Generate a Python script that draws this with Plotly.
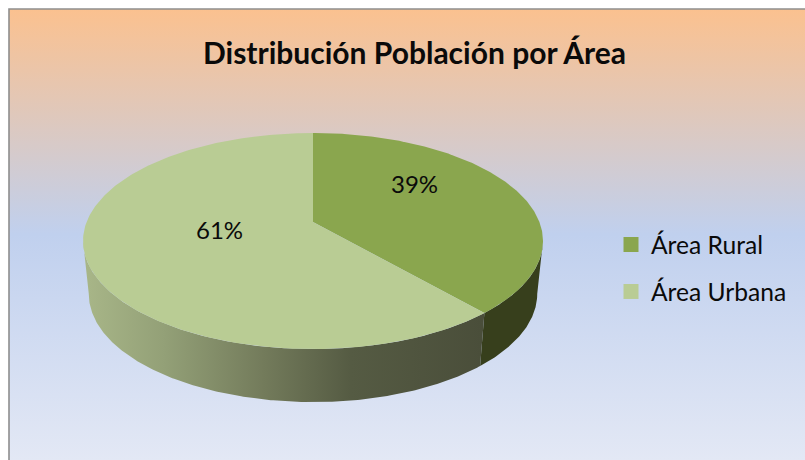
import numpy as np
import plotly.graph_objects as go

# Data
categories = ["Área Rural", "Área Urbana"]
values = [38.6, 61.4]
slice_colors = ["#8AA64E", "#B9CC94"]
title_text = "Distribución Población por Área"

# Drawing frame (pixel-like axes) and projection of the tilted disc
W, H = 805, 460
CX, APEX_Y, RX, RY, G = 313, 222, 226.4, 104.7, 0.176
DEPTH, SHRINK = 53, 0.975
FRAME_X, FRAME_Y = 9, 9


def rim(t0, t1, n=240):
    t = np.radians(np.linspace(t0, t1, n))
    u, v = np.sin(t), np.cos(t)
    w = 1 + G * v
    return CX + RX * u / w, APEX_Y - RY * v / w


def wall(t0, t1):
    x, y = rim(t0, t1)
    bx = CX + (x - CX) * SHRINK
    by = y + DEPTH
    return np.r_[x, bx[::-1], x[0]], np.r_[y, by[::-1], y[0]]


def sector(t0, t1):
    x, y = rim(t0, t1)
    return np.r_[CX, x, CX], np.r_[APEX_Y, y, APEX_Y]


split = 360 * values[0] / sum(values)
pct = [f"{round(100 * v / sum(values))}%" for v in values]

fig = go.Figure()

# Chart background
fig.add_trace(go.Scatter(
    x=[FRAME_X, W, W, FRAME_X, FRAME_X], y=[FRAME_Y, FRAME_Y, H, H, FRAME_Y],
    mode="lines", line=dict(width=0), fill="toself",
    fillgradient=dict(
        type="vertical", start=FRAME_Y, stop=H,
        colorscale=[[0, "#FBC18F"], [0.5, "#C0D0EE"], [1, "#E3E8F5"]],
    ),
    showlegend=False, hoverinfo="skip",
))
fig.add_trace(go.Scatter(
    x=[FRAME_X, FRAME_X, W], y=[H, FRAME_Y, FRAME_Y], mode="lines",
    line=dict(color="#8E8E8E", width=1.6), showlegend=False, hoverinfo="skip",
))

# Side walls
x, y = wall(100, split)
fig.add_trace(go.Scatter(
    x=x, y=y, mode="lines", line=dict(width=0), fill="toself",
    fillcolor="#373F1C", showlegend=False, hoverinfo="skip",
))
x, y = wall(split, 260)
fig.add_trace(go.Scatter(
    x=x, y=y, mode="lines", line=dict(width=0), fill="toself",
    fillgradient=dict(
        type="horizontal", start=85, stop=482,
        colorscale=[[0, "#A8B688"], [0.2, "#93A077"], [0.45, "#737B5B"],
                    [0.67, "#555B43"], [1, "#4A4E3A"]],
    ),
    showlegend=False, hoverinfo="skip",
))

# Top slices
x, y = sector(0, split)
fig.add_trace(go.Scatter(
    x=x, y=y, mode="lines", line=dict(width=0), fill="toself",
    fillcolor=slice_colors[0], showlegend=False, hoverinfo="skip",
))
x, y = sector(split, 360)
fig.add_trace(go.Scatter(
    x=x, y=y, mode="lines", line=dict(width=0), fill="toself",
    fillcolor=slice_colors[1], showlegend=False, hoverinfo="skip",
))

# Legend entries
for name, color in zip(categories, slice_colors):
    fig.add_trace(go.Scatter(
        x=[None], y=[None], mode="markers", name=name, legendgroup=name,
        marker=dict(symbol="square", size=15, color=color),
    ))

label_pos = [(414, 183.5), (219, 229.5)]
annotations = [
    dict(x=px, y=py, text=t, showarrow=False, xref="x", yref="y",
         font=dict(family="Lato", size=24, color="#0A0A0A"))
    for (px, py), t in zip(label_pos, pct)
]
annotations.append(dict(
    x=414, y=52, text=f"<b>{title_text}</b>", showarrow=False, xref="x", yref="y",
    font=dict(family="Lato", size=30, color="#0A0A0A"),
))

fig.update_layout(
    width=W, height=H, margin=dict(l=0, r=0, t=0, b=0),
    paper_bgcolor="white", plot_bgcolor="rgba(0,0,0,0)",
    xaxis=dict(range=[0, W], visible=False, fixedrange=True),
    yaxis=dict(range=[H, 0], visible=False, fixedrange=True),
    annotations=annotations,
    legend=dict(
        x=611 / W, y=1 - 222 / H, xanchor="left", yanchor="top",
        bgcolor="rgba(0,0,0,0)", font=dict(family="Lato", size=24.6, color="#0A0A0A"),
        tracegroupgap=12, traceorder="grouped",
    ),
)

fig.write_html("out.html", config={"displayModeBar": False},
               post_script="document.body.style.margin='0';")
